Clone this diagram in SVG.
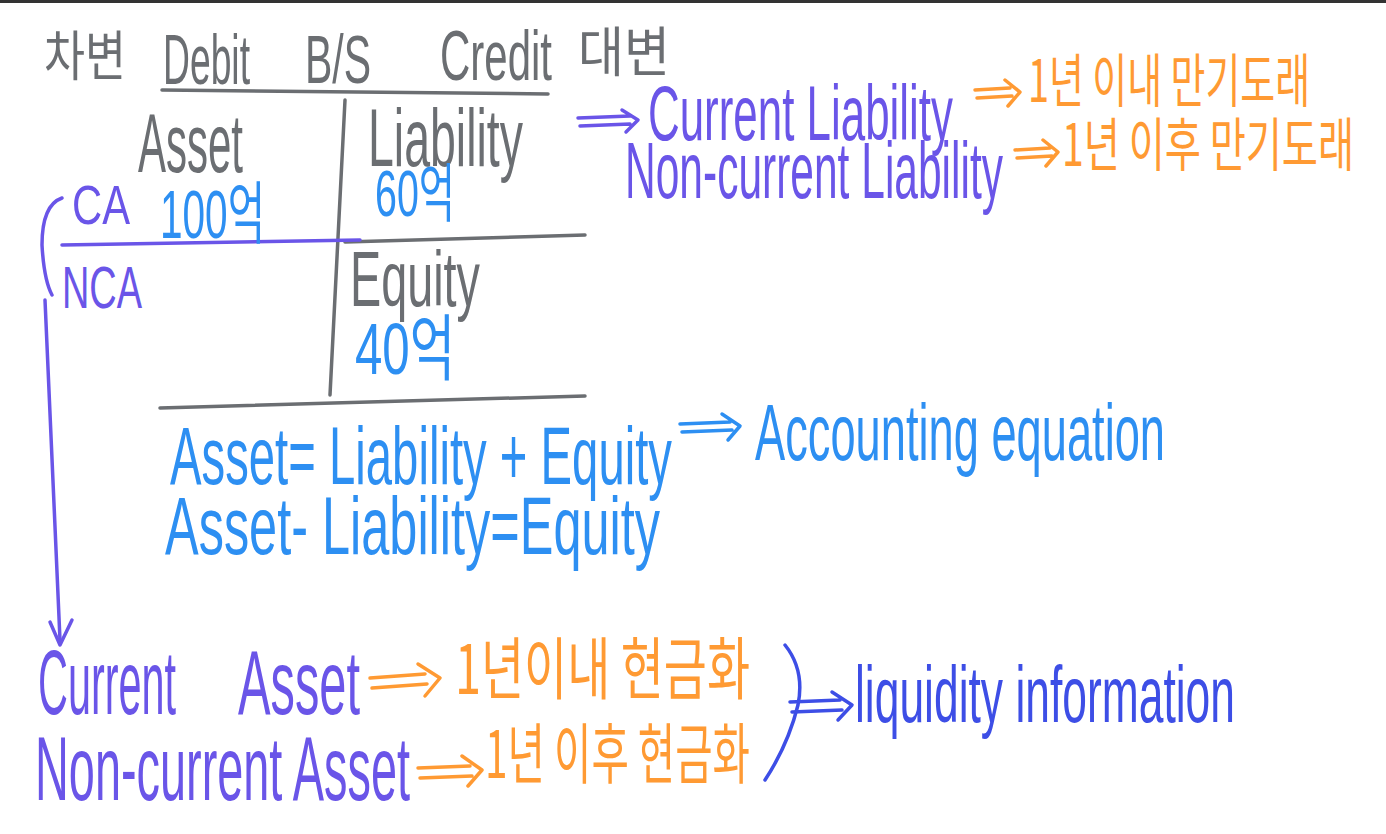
<svg xmlns="http://www.w3.org/2000/svg" width="1386" height="834" viewBox="0 0 1386 834">
<defs>
<style>
.t{font-family:"Liberation Sans","Noto Sans CJK KR",sans-serif;}
.k{font-family:"Noto Sans CJK KR",sans-serif;}
.gray{fill:#6b6e72;}
.pur{fill:#6a55e8;}
.blu{fill:#2d8ff2;}
.org{fill:#ff9a33;}
.dblu{fill:#3d4ee6;}
.ln{fill:none;stroke-width:3.5;stroke-linecap:round;stroke-linejoin:round;}
.sg{stroke:#6b6e72;}
.sp{stroke:#6a55e8;}
.sb{stroke:#2d8ff2;}
.so{stroke:#ff9a33;}
.sd{stroke:#3d4ee6;}
</style>
</defs>
<rect width="1386" height="834" fill="#ffffff"/>
<line x1="0" y1="1.5" x2="1386" y2="1.5" stroke="#333" stroke-width="3"/>

<g id="table">
<path class="ln sg" d="M162 90 L548 94"/>
<path class="ln sg" d="M345 100 L330 395"/>
<path class="ln sg" d="M345 242 L585 235"/>
<path class="ln sg" d="M160 408 L585 396"/>
<path class="ln sp" d="M62 245 L360 240"/>
</g>

<g id="header">
<text class="k gray" x="44" y="76" font-size="54" textLength="82" lengthAdjust="spacingAndGlyphs">차변</text>
<text class="t gray" x="163" y="84" font-size="70" textLength="87" lengthAdjust="spacingAndGlyphs">Debit</text>
<text class="t gray" x="305" y="83" font-size="68" textLength="66" lengthAdjust="spacingAndGlyphs">B/S</text>
<text class="t gray" x="440" y="80" font-size="70" textLength="112" lengthAdjust="spacingAndGlyphs">Credit</text>
<text class="k gray" x="578" y="72" font-size="54" textLength="92" lengthAdjust="spacingAndGlyphs">대변</text>
</g>

<g id="asset">
<text class="t gray" x="138" y="172" font-size="84" textLength="105" lengthAdjust="spacingAndGlyphs">Asset</text>
<text class="t blu" x="160" y="238" font-size="68" textLength="105" lengthAdjust="spacingAndGlyphs">100억</text>
<text class="t pur" x="72" y="224" font-size="56" textLength="58" lengthAdjust="spacingAndGlyphs">CA</text>
<text class="t pur" x="62" y="308" font-size="60" textLength="80" lengthAdjust="spacingAndGlyphs">NCA</text>
<path class="ln sp" d="M62 198 Q42 205 42 245 Q44 280 52 295"/>
</g>

<g id="liability">
<text class="t gray" x="368" y="166" font-size="82" textLength="155" lengthAdjust="spacingAndGlyphs">Liability</text>
<text class="t blu" x="375" y="216" font-size="64" textLength="80" lengthAdjust="spacingAndGlyphs">60억</text>
</g>

<g id="equity">
<text class="t gray" x="350" y="306" font-size="78" textLength="130" lengthAdjust="spacingAndGlyphs">Equity</text>
<text class="t blu" x="355" y="374" font-size="72" textLength="100" lengthAdjust="spacingAndGlyphs">40억</text>
</g>

<g id="liability-types">
<text class="t pur" x="648" y="140" font-size="78" textLength="305" lengthAdjust="spacingAndGlyphs">Current Liability</text>
<text class="t pur" x="625" y="198" font-size="80" textLength="378" lengthAdjust="spacingAndGlyphs">Non-current Liability</text>
<text class="k org" x="1028" y="102" font-size="58" textLength="282" lengthAdjust="spacingAndGlyphs">1년 이내 만기도래</text>
<text class="k org" x="1062" y="166" font-size="58" textLength="292" lengthAdjust="spacingAndGlyphs">1년 이후 만기도래</text>
</g>

<g id="equation">
<text class="t blu" x="170" y="484" font-size="82" textLength="502" lengthAdjust="spacingAndGlyphs">Asset= Liability + Equity</text>
<text class="t blu" x="755" y="460" font-size="80" textLength="410" lengthAdjust="spacingAndGlyphs">Accounting equation</text>
<text class="t blu" x="165" y="554" font-size="82" textLength="495" lengthAdjust="spacingAndGlyphs">Asset- Liability=Equity</text>
</g>

<g id="asset-types">
<text class="t pur" x="38" y="714" font-size="90" textLength="138" lengthAdjust="spacingAndGlyphs">Current</text>
<text class="t pur" x="238" y="714" font-size="90" textLength="122" lengthAdjust="spacingAndGlyphs">Asset</text>
<text class="t pur" x="35" y="800" font-size="90" textLength="375" lengthAdjust="spacingAndGlyphs">Non-current Asset</text>
<text class="k org" x="455" y="694" font-size="68" textLength="295" lengthAdjust="spacingAndGlyphs">1년이내 현금화</text>
<text class="k org" x="485" y="778" font-size="66" textLength="265" lengthAdjust="spacingAndGlyphs">1년 이후 현금화</text>
</g>

<g id="liquidity">
<path class="ln sd" d="M785 645 Q805 670 798 705 Q788 745 765 780"/>
<text class="t dblu" x="855" y="722" font-size="80" textLength="380" lengthAdjust="spacingAndGlyphs">liquidity information</text>
</g>

<g id="connectors">
<path class="ln sp" d="M45 300 L60 640"/>
<path class="ln sp" d="M50 622 L60 645 L72 620"/>
<path class="ln sp" d="M578 118 L630 116 M580 126 L630 124 M622 110 L638 120 L626 132"/>
<path class="ln so" d="M975 90 L1010 88 M977 98 L1012 96 M1005 80 L1020 92 L1008 106"/>
<path class="ln so" d="M1015 150 L1050 148 M1017 158 L1052 156 M1043 140 L1058 152 L1046 166"/>
<path class="ln sb" d="M680 424 L730 422 M682 432 L732 430 M722 414 L740 426 L728 440"/>
<path class="ln so" d="M370 678 L425 674 M372 688 L427 684 M418 664 L440 678 L425 696"/>
<path class="ln so" d="M418 768 L470 766 M420 778 L472 776 M462 756 L482 770 L468 786"/>
<path class="ln sd" d="M790 702 L840 700 M792 712 L842 710 M832 692 L852 705 L838 720"/>
</g>
</svg>
